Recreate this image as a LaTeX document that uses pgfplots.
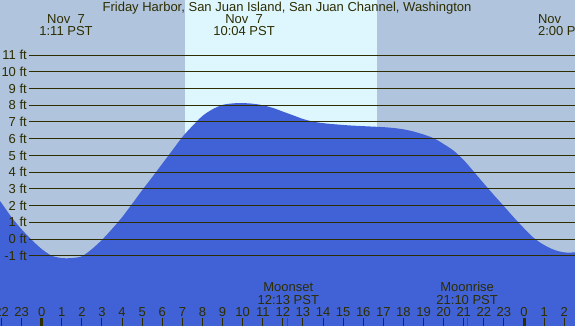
\documentclass[border=0pt]{standalone}
\usepackage{pgfplots}
\pgfplotsset{compat=1.18}
\usepackage{fontspec}
\setmainfont{Liberation Sans}
\definecolor{bgc}{HTML}{B0C4DE}
\definecolor{dayc}{RGB}{222,247,255}
\definecolor{tidec}{RGB}{65,97,214}
\definecolor{ink}{RGB}{45,45,0}
\newcommand{\fs}{\fontsize{13bp}{15bp}\selectfont}
\begin{document}
\begin{tikzpicture}[font=\fs]
\begin{axis}[at={(0,0)}, anchor=south west, scale only axis,
 width=575bp, height=326bp,
 xmin=-2.075, xmax=26.537, ymin=-5.203, ymax=14.294,
 axis line style={draw=none},
 axis background/.style={fill=bgc},
 axis on top,
 xtick={-2,...,26},
 xticklabels={22,23,0,1,2,3,4,5,6,7,8,9,10,11,12,13,14,15,16,17,18,19,20,21,22,23,0,1,2},
 xtick pos=bottom, tick align=inside, major tick length=8bp,
 xtick style={draw=ink, line width=1bp},
 tick label style={font=\fs, text=ink},
 xticklabel style={anchor=base, yshift=9.3bp, inner sep=0pt},
 ytick={-1,...,11},
 yticklabels={-1 ft,0 ft,1 ft,2 ft,3 ft,4 ft,5 ft,6 ft,7 ft,8 ft,9 ft,10 ft,11 ft},
 ytick pos=left,
 ytick style={draw=none},
 yticklabel style={anchor=east, xshift=27bp, inner sep=0pt},
]
% daylight
\fill[dayc] (axis cs:7.129,-5.3) rectangle (axis cs:16.68,14.4);
% tide
\addplot[fill=tidec, draw=none, smooth] coordinates {
(-2.5,2.95) (-2.0,2.15) (-1.5,1.3) (-1.0,0.58) (-0.5,-0.05) (0.0,-0.6)
(0.5,-1.0) (1.0,-1.14) (1.5,-1.14) (2.0,-1.03) (2.5,-0.6) (3.0,-0.05)
(3.5,0.6) (4.0,1.3) (4.5,2.1) (5.0,2.92) (5.5,3.7) (6.0,4.5)
(6.5,5.3) (7.0,6.1) (7.5,6.76) (8.0,7.36) (8.5,7.76) (9.0,8.02)
(9.5,8.11) (10.0,8.13) (10.5,8.09) (11.0,8.0) (11.5,7.84) (12.0,7.62)
(12.5,7.4) (13.0,7.18) (13.5,7.02) (14.0,6.93) (14.5,6.87) (15.0,6.82)
(15.5,6.78) (16.0,6.75) (16.5,6.72) (17.0,6.69) (17.5,6.64) (18.0,6.56)
(18.5,6.43) (19.0,6.25) (19.5,6.03) (20.0,5.68) (20.5,5.28) (21.0,4.72)
(21.5,4.03) (22.0,3.32) (22.5,2.63) (23.0,1.96) (23.5,1.28) (24.0,0.64)
(24.5,0.05) (25.0,-0.36) (25.5,-0.65) (26.0,-0.8) (26.5,-0.8) (27.0,-0.72)
} -- (axis cs:27.0,-5.5) -- (axis cs:-2.5,-5.5) -- cycle;
% grid lines
\pgfplotsinvokeforeach{-1,...,11}{
 \draw[ink, line width=1bp] (axis cs:-0.632,#1) -- (axis cs:26.7,#1);
}
% thick midnight ticks and moon ticks
\draw[ink, line width=3bp] (axis cs:0,-5.203) -- (axis cs:0,-4.725);
\draw[ink, line width=3bp] (axis cs:24,-5.203) -- (axis cs:24,-4.725);
\draw[red, line width=1bp] (axis cs:12.217,-5.203) -- (axis cs:12.217,-4.70);
\draw[red, line width=1bp] (axis cs:21.167,-5.203) -- (axis cs:21.167,-4.70);
% texts
\node[anchor=base, text=ink, inner sep=0pt] at (axis cs:12.207,13.577) {Friday Harbor, San Juan Island, San Juan Channel, Washington};
\node[anchor=base, text=ink, inner sep=0pt] at (axis cs:1.21,12.859) {Nov\ \ 7};
\node[anchor=base, text=ink, inner sep=0pt] at (axis cs:1.21,12.141) {1:11 PST};
\node[anchor=base, text=ink, inner sep=0pt] at (axis cs:10.07,12.859) {Nov\ \ 7};
\node[anchor=base, text=ink, inner sep=0pt] at (axis cs:10.07,12.141) {10:04 PST};
\node[anchor=base west, text=ink, inner sep=0pt] at (axis cs:24.69,12.859) {Nov};
\node[anchor=base west, text=ink, inner sep=0pt] at (axis cs:24.69,12.141) {2:00 PST};
\node[anchor=base, text=ink, inner sep=0pt] at (axis cs:12.27,-3.110) {Moonset};
\node[anchor=base, text=ink, inner sep=0pt] at (axis cs:12.27,-3.888) {12:13 PST};
\node[anchor=base, text=ink, inner sep=0pt] at (axis cs:21.17,-3.110) {Moonrise};
\node[anchor=base, text=ink, inner sep=0pt] at (axis cs:21.17,-3.888) {21:10 PST};
\end{axis}
\pgfresetboundingbox
\useasboundingbox (0,0) rectangle (575bp,326bp);
\end{tikzpicture}
\end{document}
